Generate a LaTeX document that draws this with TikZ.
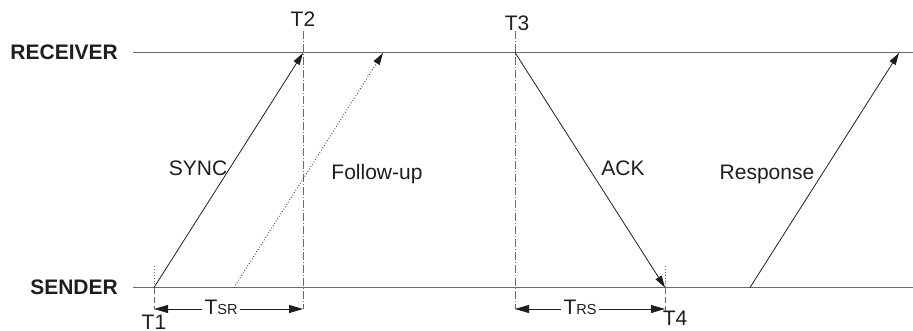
\documentclass[tikz,border=0pt]{standalone}
\usepackage{fontspec}
\setmainfont{Liberation Sans}
\usetikzlibrary{arrows.meta}
\definecolor{lanegray}{HTML}{6A6A6A}
\definecolor{ink}{HTML}{1E1E1E}
\begin{document}
\begin{tikzpicture}[x=1pt,y=-1pt,
  lane/.style={draw=lanegray,line width=1.3pt},
  msg/.style={draw=ink,line width=0.8pt,-{Triangle[length=12pt,width=7pt]}},
  followmsg/.style={msg,dotted},
  marker/.style={draw=lanegray,line width=0.9pt,dash pattern=on 8pt off 2pt on 1pt off 2pt},
  tick/.style={draw=lanegray,line width=0.9pt,dotted},
  tickdash/.style={draw=lanegray,line width=0.9pt,dash pattern=on 6pt off 3pt},
  span/.style={draw=ink,line width=0.8pt,{Triangle[length=14pt,width=8pt]}-{Triangle[length=14pt,width=8pt]}},
  lbl/.style={text=ink,font=\fontsize{21}{25}\selectfont,inner sep=1pt},
  role/.style={text=ink,font=\fontsize{21}{25}\selectfont\bfseries,inner sep=0pt,anchor=east},
  subsz/.style={font=\fontsize{14.5}{16}\selectfont}
]
\useasboundingbox (0,0) rectangle (913,331);

% timelines
\coordinate (rx0) at (133,52.5);
\coordinate (rx1) at (913,52.5);
\coordinate (sx0) at (133,287.5);
\coordinate (sx1) at (913,287.5);
\path[lane] (rx0) -- (rx1);
\path[lane] (sx0) -- (sx1);
\node[role] (receiver) at (118,52.5) {RECEIVER};
\node[role] (sender) at (118,287.5) {SENDER};

% event points
\coordinate (t1) at (154,287.5);
\coordinate (t2) at (303,53);
\coordinate (f0) at (234,287.5);
\coordinate (f1) at (383,53);
\coordinate (t3) at (515,52.5);
\coordinate (t4) at (665,287.5);
\coordinate (r0) at (750,287.5);
\coordinate (r1) at (899,53);

% time markers
\coordinate (t1top) at (154,266);
\coordinate (t1bot) at (154,309);
\coordinate (t2top) at (303,31);
\coordinate (t2bot) at (303,309);
\coordinate (t3top) at (515,31);
\coordinate (t3bot) at (515,309);
\coordinate (t4top) at (665,266);
\coordinate (t4bot) at (665,312);
\coordinate (t4span) at (665,309);
\path[tick] (t1top) -- (t1);
\path[tickdash] (t1) -- (t1bot);
\path[marker] (t2top) -- (t2bot);
\path[marker] (t3top) -- (t3bot);
\path[tick] (t4top) -- (t4);
\path[tickdash] (t4) -- (t4bot);

% messages
\path[msg] (t1) -- (t2);
\path[followmsg] (f0) -- (f1);
\path[msg] (t3) -- (t4);
\path[msg] (r0) -- (r1);

% message labels
\node[lbl] (sync) at (198,168) {SYNC};
\node[lbl,anchor=base] (follow) at (377,179.5) {Follow-up};
\node[lbl] (ack) at (623,168) {ACK};
\node[lbl,anchor=base] (resp) at (767,179.5) {Response};

% time labels
\node[lbl] (lt1) at (154,322) {T1};
\node[lbl] (lt2) at (303,19) {T2};
\node[lbl] (lt3) at (517,23) {T3};
\node[lbl] (lt4) at (675,318) {T4};

% transit intervals
\path[span] (t1bot) -- (t2bot);
\path[span] (t3bot) -- (t4span);
\node[lbl,fill=white,inner xsep=3pt] (tsr) at (221,307) {T{\fontsize{14.5}{16}\selectfont SR}};
\node[lbl,fill=white,inner xsep=3pt] (trs) at (580,307) {T{\fontsize{14.5}{16}\selectfont RS}\hspace{7pt}};
\end{tikzpicture}
\end{document}
